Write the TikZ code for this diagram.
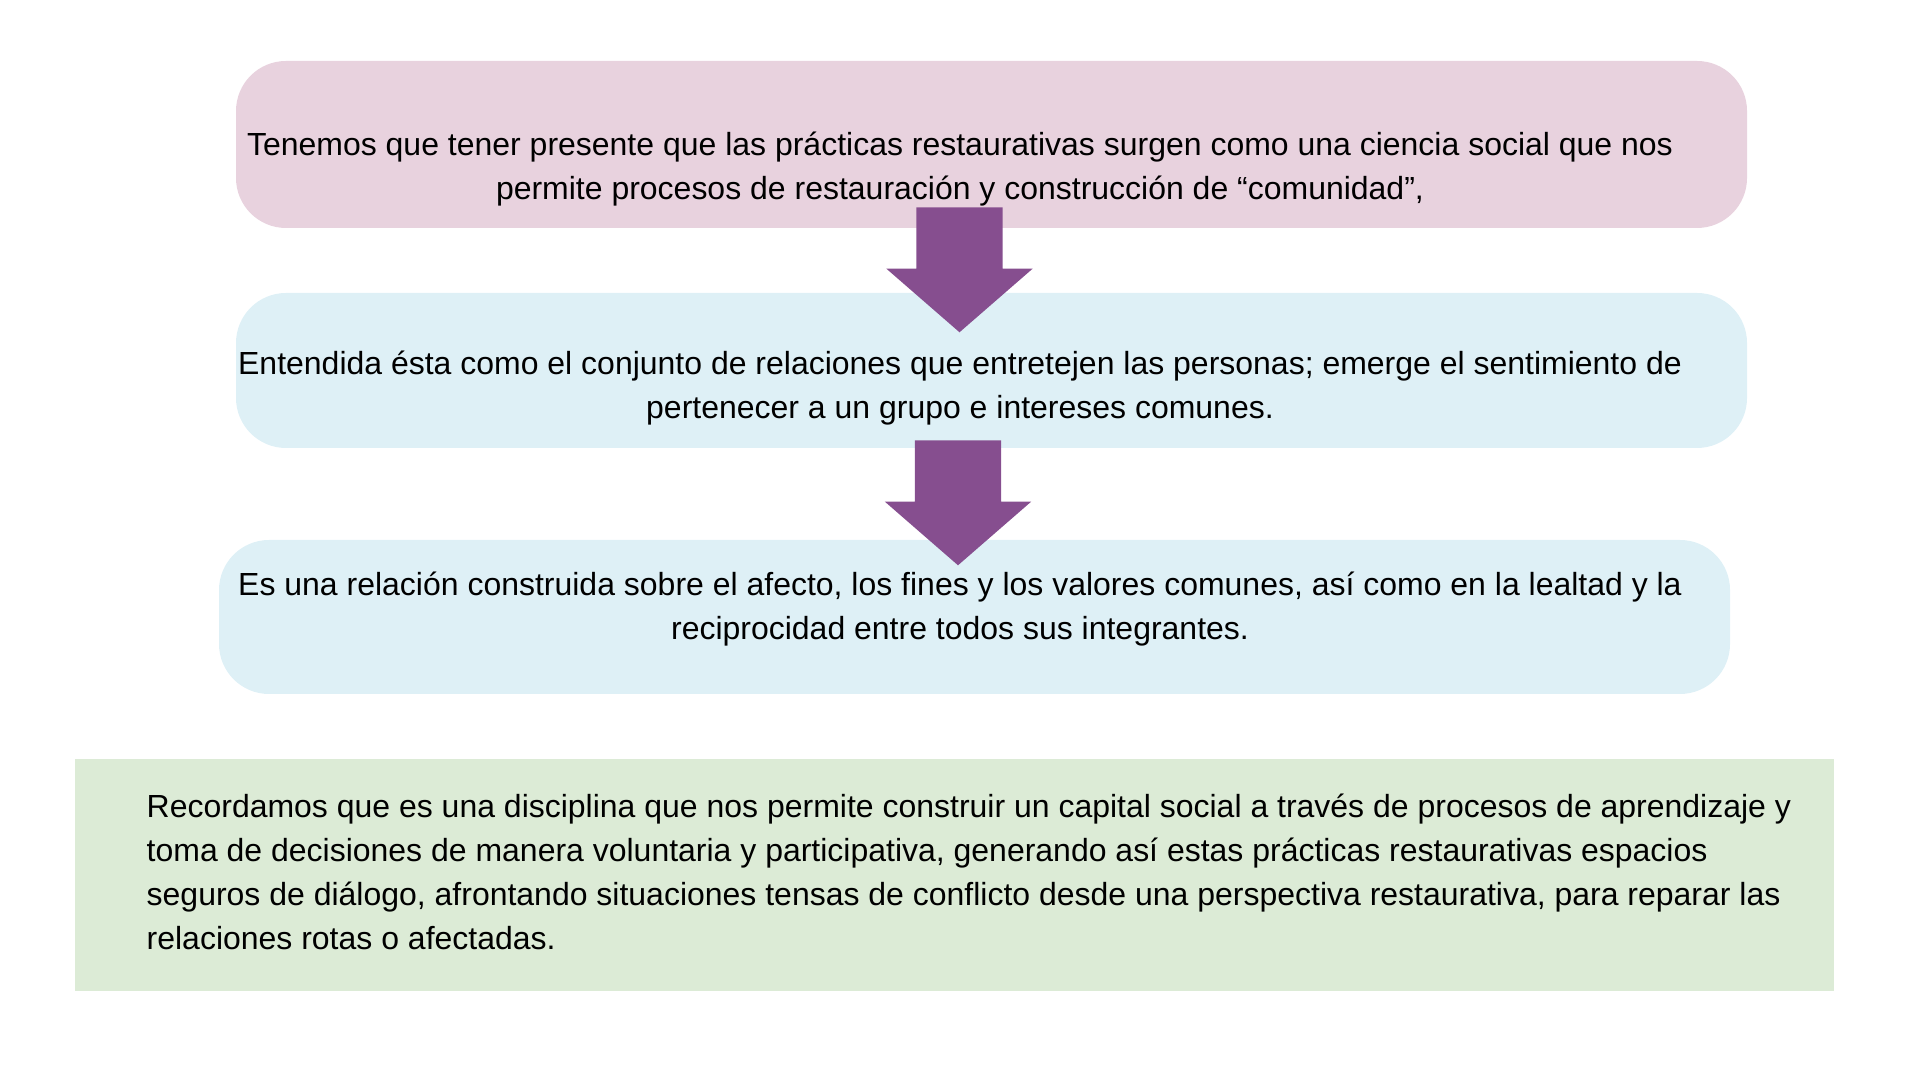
\documentclass[tikz,border=0pt]{standalone}
\usepackage{fontspec}
\setmainfont{Liberation Sans}
\usepackage{xcolor}
\usetikzlibrary{shapes.arrows}

\definecolor{rosa}{HTML}{E8D2DE}
\definecolor{celeste}{HTML}{DEF0F6}
\definecolor{verde}{HTML}{DCEBD6}
\definecolor{morado}{HTML}{864E8F}

\tikzset{
  caja/.style={rounded corners=0.5cm, minimum width=15.11cm, inner sep=0pt},
  verdebox/.style={fill=verde, minimum width=17.59cm, minimum height=2.32cm, inner sep=0pt},
  texto/.style={align=center, font=\fontsize{9.1pt}{12.5pt}\selectfont, inner sep=0pt},
  flecha/.style={single arrow, fill=morado, rotate=-90, minimum height=1.25cm,
    inner xsep=0pt, inner ysep=0.425cm, single arrow head extend=0.3cm,
    single arrow tip angle=98}
}

\begin{document}
\begin{tikzpicture}
\useasboundingbox (0,0) rectangle (19.2,10.8);

\node[caja, fill=rosa, minimum height=1.67cm] (caja1) at (9.915,9.355) {};
\node[caja, fill=celeste, minimum height=1.55cm] (caja2) at (9.915,7.095) {};
\node[caja, fill=celeste, minimum height=1.54cm] (caja3) at (9.745,4.63) {};
\node[verdebox] (caja4) at (9.545,2.05) {};

\node[flecha] (flecha1) at (9.595,8.29) {};
\node[flecha] (flecha2) at (9.58,5.96) {};

\node[texto] (texto1) at (9.6,9.11) {Tenemos que tener presente que las prácticas restaurativas surgen como una ciencia social que nos\\ permite procesos de restauración y construcción de “comunidad”,};
\node[texto] (texto2) at (9.6,6.92) {Entendida ésta como el conjunto de relaciones que entretejen las personas; emerge el sentimiento de\\ pertenecer a un grupo e intereses comunes.};
\node[texto] (texto3) at (9.6,4.71) {Es una relación construida sobre el afecto, los fines y los valores comunes, así como en la lealtad y la\\ reciprocidad entre todos sus integrantes.};

%texto del recuadro verde
\node[texto, align=left, anchor=west] (texto4) at (1.46,2.08) {Recordamos que es una disciplina que nos permite construir un capital social a través de procesos de aprendizaje y\\ toma de decisiones de manera voluntaria y participativa, generando así estas prácticas restaurativas espacios\\ seguros de diálogo, afrontando situaciones tensas de conflicto desde una perspectiva restaurativa, para reparar las\\ relaciones rotas o afectadas.};

\end{tikzpicture}
\end{document}
